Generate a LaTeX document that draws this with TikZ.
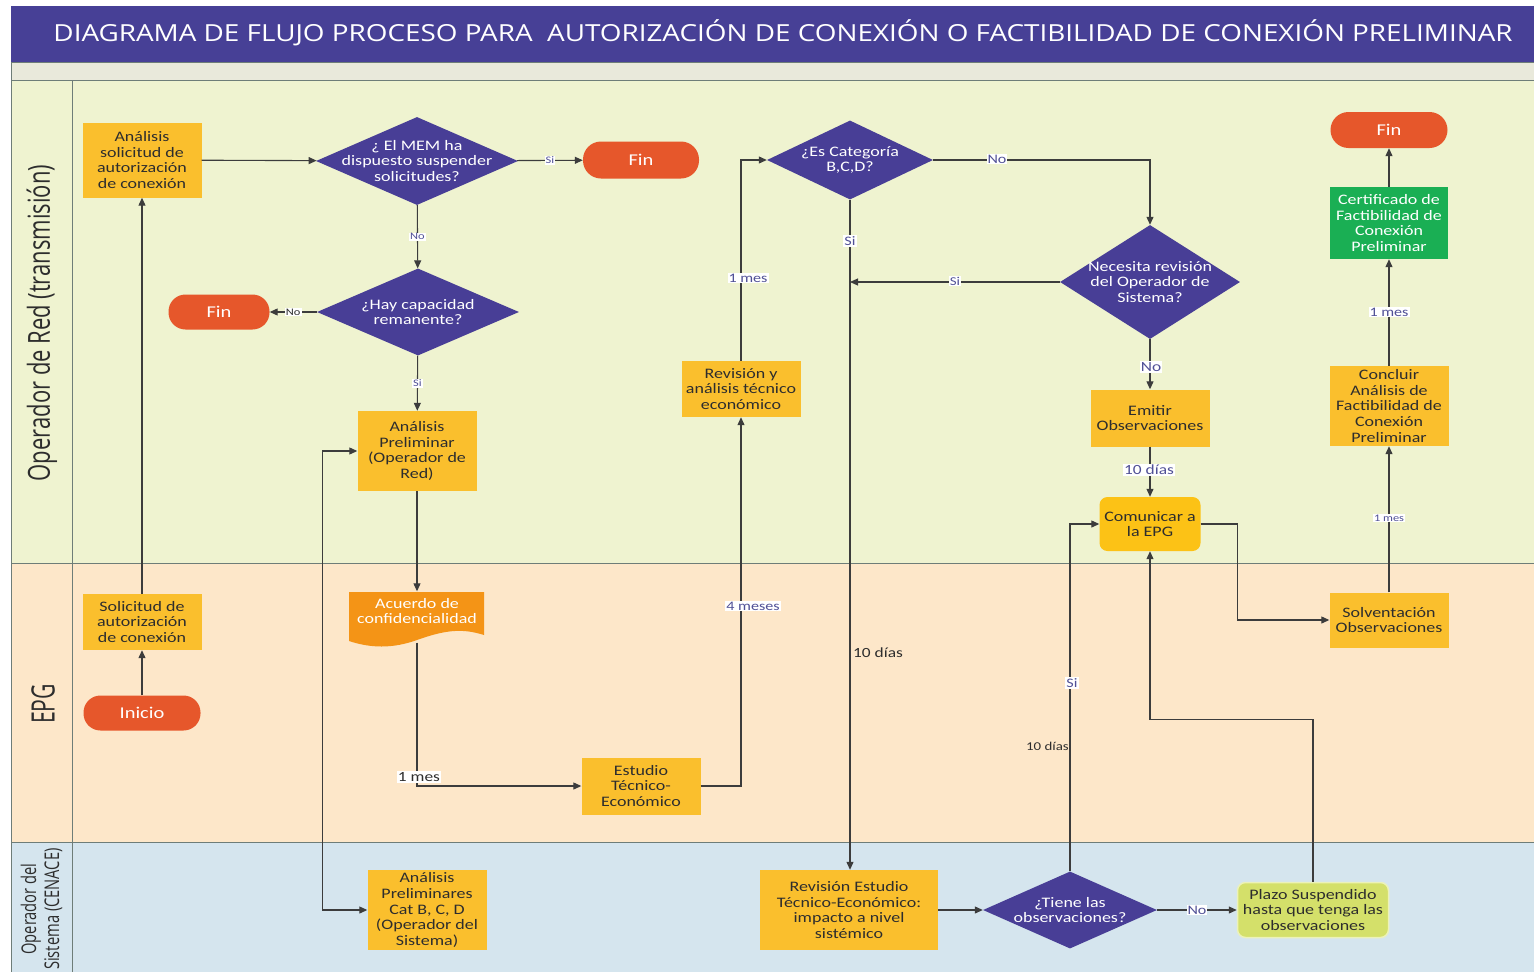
\documentclass[tikz,border=0pt]{standalone}
\usepackage{graphicx}
\usepackage{fontspec}
\setmainfont{Carlito}[FakeStretch=1.24]
\newfontfamily\osans{Open Sans}
\usetikzlibrary{shapes.geometric,arrows.meta}
\definecolor{titlebg}{RGB}{71,64,150}
\definecolor{strip}{RGB}{233,233,219}
\definecolor{laneA}{RGB}{239,243,208}
\definecolor{laneB}{RGB}{253,231,201}
\definecolor{laneC}{RGB}{213,229,238}
\definecolor{lanec}{RGB}{110,125,120}
\definecolor{boxc}{RGB}{250,191,45}
\definecolor{comc}{RGB}{252,194,22}
\definecolor{diac}{RGB}{72,62,150}
\definecolor{finc}{RGB}{230,87,43}
\definecolor{acuc}{RGB}{244,148,22}
\definecolor{certc}{RGB}{26,175,84}
\definecolor{plazoc}{RGB}{212,224,106}
\definecolor{plazob}{RGB}{236,242,185}
\definecolor{txt}{RGB}{45,45,45}
\definecolor{linec}{RGB}{60,60,60}
\definecolor{lblc}{RGB}{80,80,150}
\begin{document}
\begin{tikzpicture}[x=1pt,y=-1pt,
  bfont/.style={font=\fontsize{14.5}{15.7}\selectfont},
  box/.style={rectangle, fill=boxc, text=txt, align=center, inner sep=1pt, bfont},
  dia/.style={diamond, fill=diac, inner sep=0pt},
  dtxt/.style={text=white, align=center, bfont},
  pill/.style={rectangle, fill=finc, text=white, font=\fontsize{16.5}{18}\selectfont},
  conn/.style={draw=linec, line width=1.1pt, >={Triangle[length=8pt,width=7pt]}},
  lbl/.style={fill=white, text=lblc, inner sep=1pt, font=\fontsize{#1}{#1}\selectfont},
  lbl/.default=13,
  lblk/.style={text=txt, inner sep=1pt, font=\fontsize{#1}{#1}\selectfont},
  lblk/.default=14]
% background and lanes
\fill[white] (0,0) rectangle (1534,972);
\useasboundingbox (0,0) rectangle (1534,972);
\fill[titlebg] (11,6) rectangle (1534,62);
\fill[strip] (11,62) rectangle (1534,80);
\fill[laneA] (11,80) rectangle (1534,563);
\fill[laneB] (11,563) rectangle (1534,842);
\fill[laneC] (11,842) rectangle (1534,972);
\draw[lanec, line width=1pt] (11,62) -- (1534,62) (11,80) -- (1534,80)
  (11,563) -- (1534,563) (11,842) -- (1534,842)
  (11,62) -- (11,972) (72,80) -- (72,972);
\node[text=white, font=\osans\fontsize{23.5}{26}\selectfont] (title) at (783,33)
  {\scalebox{1.185}[1]{DIAGRAMA DE FLUJO PROCESO PARA\ \ AUTORIZACIÓN DE CONEXIÓN O FACTIBILIDAD DE CONEXIÓN PRELIMINAR}};
\node[rotate=90, text=txt, font=\osans\fontsize{22}{24}\selectfont] (laneRed) at (42,323)
  {\scalebox{1}[1.38]{Operador de Red (transmisión)}};
\node[rotate=90, text=txt, font=\osans\fontsize{23}{24}\selectfont] (laneEPG) at (43,704)
  {\scalebox{0.92}[1.4]{EPG}};
\node[rotate=90, text=txt, align=center, font=\osans\fontsize{15}{17}\selectfont] (laneSis) at (43,909)
  {\scalebox{0.98}[1.35]{\begin{tabular}{@{}c@{}}Operador del\\Sistema (CENACE)\end{tabular}}};

% nodes
\node[box, minimum width=119pt, minimum height=75pt] (anal) at (142,160) {Análisis\\solicitud de\\autorización\\de conexión};
\node[dia, minimum width=202pt, minimum height=88pt, label={[dtxt]center:{¿ El MEM ha\\dispuesto suspender\\solicitudes?}}] (mem) at (417,161) {};
\node[pill, rounded corners=18pt, minimum width=116pt, minimum height=37pt] (fin1) at (641,160) {Fin};
\node[dia, minimum width=202pt, minimum height=87pt, label={[dtxt]center:{¿Hay capacidad\\remanente?}}] (cap) at (418,312) {};
\node[pill, rounded corners=17pt, minimum width=101pt, minimum height=35pt] (fin2) at (219,312) {Fin};
\node[box, minimum width=119pt, minimum height=80pt] (prelim) at (417,451) {Análisis\\Preliminar\\(Operador de\\Red)};
\fill[acuc] (349,592) -- (484,592) -- (484,635) .. controls (462,628) and (445,630) .. (417,640)
  .. controls (392,649) and (370,648) .. (349,641) -- cycle;
\node[minimum width=135pt, minimum height=51pt, inner sep=0pt,
  label={[text=white, align=center, bfont, yshift=6pt]center:{Acuerdo de\\confidencialidad}}] (acuerdo) at (417,617) {};
\node[box, minimum width=119pt, minimum height=56pt] (solic) at (142,622) {Solicitud de\\autorización\\de conexión};
\node[pill, rounded corners=17pt, minimum width=117pt, minimum height=35pt] (inicio) at (142,713) {Inicio};
\node[box, minimum width=119pt, minimum height=57pt] (estudio) at (641,786) {Estudio\\Técnico-\\Económico};
\node[box, minimum width=119pt, minimum height=56pt] (revis) at (741,389) {Revisión y\\análisis técnico\\económico};
\node[dia, minimum width=166pt, minimum height=79pt, label={[dtxt]center:{¿Es Categoría\\B,C,D?}}] (cat) at (850,160) {};
\node[dia, minimum width=180pt, minimum height=114pt, label={[dtxt]center:{Necesita revisión\\del Operador de\\Sistema?}}] (nec) at (1150,282) {};
\node[box, minimum width=119pt, minimum height=57pt] (emitir) at (1150,418) {Emitir\\Observaciones};
\node[box, fill=comc, rounded corners=8pt, minimum width=101pt, minimum height=54pt] (comunicar) at (1150,524) {Comunicar a\\la EPG};
\node[box, minimum width=119pt, minimum height=55pt] (solv) at (1389,620) {Solventación\\Observaciones};
\node[box, minimum width=119pt, minimum height=80pt] (concluir) at (1389,406) {Concluir\\Análisis de\\Factibilidad de\\Conexión\\Preliminar};
\node[box, fill=certc, text=white, minimum width=118pt, minimum height=72pt] (cert) at (1389,223) {Certificado de\\Factibilidad de\\Conexión\\Preliminar};
\node[pill, rounded corners=18pt, minimum width=117pt, minimum height=36pt] (fin3) at (1389,130) {Fin};
\node[box, minimum width=119pt, minimum height=80pt] (prelimcat) at (427,910) {Análisis\\Preliminares\\Cat B, C, D\\(Operador del\\Sistema)};
\node[box, minimum width=178pt, minimum height=80pt] (revest) at (849,910) {Revisión Estudio\\Técnico-Económico:\\impacto a nivel\\sistémico};
\node[dia, minimum width=174pt, minimum height=77pt, label={[dtxt]center:{¿Tiene las\\observaciones?}}] (tiene) at (1070,910) {};
\node[box, fill=plazoc, draw=plazob, line width=1.5pt, rounded corners=8pt, minimum width=151pt, minimum height=55pt] (plazo) at (1313,910) {Plazo Suspendido\\hasta que tenga las\\observaciones};
\coordinate (jsi) at (850,282);

% connectors
\draw[conn,->] (inicio) -- (solic);
\draw[conn,->] (solic) -- (anal);
\draw[conn,->] (anal) -- (mem);
\draw[conn,->] (mem) -- node[lbl=10] {Si} (fin1);
\draw[conn,->] (mem) -- node[lbl=10] {No} (cap);
\draw[conn,->] (cap) -- node[lbl=10, text=txt] {No} (fin2);
\draw[conn,->] (cap) -- node[lbl=10] {Si} (prelim);
\draw[conn,->] (prelim) -- (acuerdo);
\draw[conn,->] (acuerdo.south) |- (estudio.west);
\draw[conn,<->] (prelim.west) -- ++(-35,0) |- (prelimcat.west);
\draw[conn,->] (estudio.east) -| (revis.south);
\draw[conn,->] (revis.north) |- (cat.west);
\draw[conn,->] (cat.east) -| (nec.north);
\draw[conn,->] (cat.south) -- (cat.south |- revest.north);
\draw[conn,->] (nec.west) -- (jsi);
\draw[conn,->] (nec) -- (emitir);
\draw[conn,->] (emitir) -- (comunicar);
\draw[conn,->] (comunicar.east) -- ++(37,0) |- (solv.west);
\draw[conn,->] (solv) -- (concluir);
\draw[conn,->] (concluir) -- (cert);
\draw[conn,->] (cert) -- (fin3);
\draw[conn,->] (revest) -- (tiene);
\draw[conn,->] (tiene.north) |- (comunicar.west);
\draw[conn,->] (tiene) -- node[lbl] {No} (plazo);
\draw[conn,->] (plazo.north) -- ++(0,-162) -| (comunicar.south);

% connector labels
\node[lbl=14, text=txt] (l1mesA) at (419,777) {1 mes};
\node[lbl] (l4meses) at (753,606) {4 meses};
\node[lbl] (l1mesB) at (748,278) {1 mes};
\node[lbl] (lnoCat) at (997,159) {No};
\node[lbl] (lsiCat) at (850,241) {Si};
\node[lblk] (l10a) at (878,653) {10 días};
\node[lbl=12] (lsiNec) at (955,281) {Si};
\node[lbl=14] (lnoNec) at (1151,367) {No};
\node[lbl=14] (l10b) at (1149,470) {10 días};
\node[lbl=10] (l1mesC) at (1389,518) {1 mes};
\node[lbl] (l1mesD) at (1389,312) {1 mes};
\node[lbl] (lsiTiene) at (1072,683) {Si};
\node[lblk=12, anchor=east] (l10c) at (1070,746) {10 días};
\end{tikzpicture}
\end{document}
